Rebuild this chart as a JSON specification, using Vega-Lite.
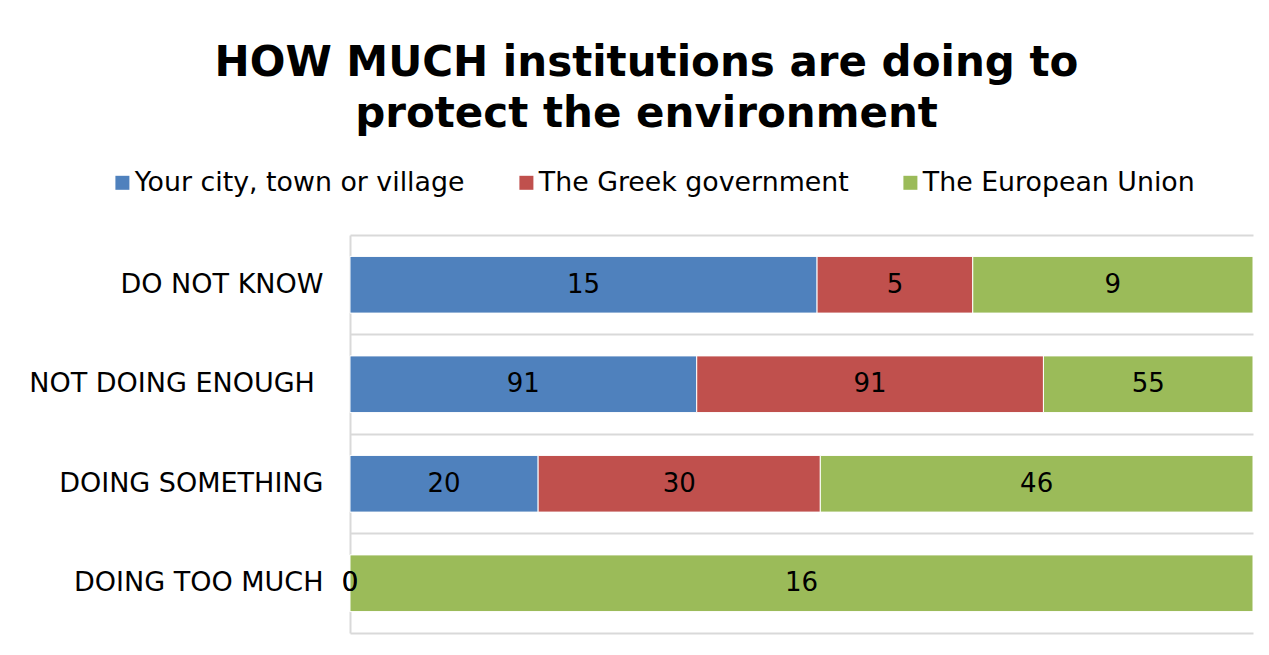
{
  "$schema": "https://vega.github.io/schema/vega-lite/v6.json",
  "autosize": "none",
  "padding": {"left": 350, "top": 235, "right": 16, "bottom": 22},
  "width": 903,
  "height": 398,
  "background": "white",
  "title": {
    "text": ["HOW MUCH institutions are doing to", "protect the environment"],
    "font": "DejaVu Sans",
    "fontSize": 42,
    "fontWeight": "bold",
    "color": "#000000",
    "lineHeight": 51,
    "anchor": "middle",
    "dx": -155,
    "offset": 33
  },
  "data": {
    "values": [
      {"category": "DO NOT KNOW", "series": "Your city, town or village", "order": 1, "value": 15},
      {"category": "DO NOT KNOW", "series": "The Greek government", "order": 2, "value": 5},
      {"category": "DO NOT KNOW", "series": "The European Union", "order": 3, "value": 9},
      {"category": "NOT DOING ENOUGH\u00a0\u200b", "series": "Your city, town or village", "order": 1, "value": 91},
      {"category": "NOT DOING ENOUGH\u00a0\u200b", "series": "The Greek government", "order": 2, "value": 91},
      {"category": "NOT DOING ENOUGH\u00a0\u200b", "series": "The European Union", "order": 3, "value": 55},
      {"category": "DOING SOMETHING", "series": "Your city, town or village", "order": 1, "value": 20},
      {"category": "DOING SOMETHING", "series": "The Greek government", "order": 2, "value": 30},
      {"category": "DOING SOMETHING", "series": "The European Union", "order": 3, "value": 46},
      {"category": "DOING TOO MUCH", "series": "Your city, town or village", "order": 1, "value": 0},
      {"category": "DOING TOO MUCH", "series": "The Greek government", "order": 2, "value": 0},
      {"category": "DOING TOO MUCH", "series": "The European Union", "order": 3, "value": 16}
    ]
  },
  "transform": [
    {"stack": "value", "groupby": ["category"], "sort": [{"field": "order"}], "offset": "normalize", "as": ["x0", "x1"]},
    {"calculate": "(datum.x0 + datum.x1) / 2", "as": "mid"}
  ],
  "encoding": {
    "y": {
      "field": "category",
      "type": "nominal",
      "sort": ["DO NOT KNOW", "NOT DOING ENOUGH\u00a0\u200b", "DOING SOMETHING", "DOING TOO MUCH"],
      "scale": {"paddingInner": 0.43, "paddingOuter": 0.215},
      "axis": {
        "title": null,
        "ticks": false,
        "labelFont": "DejaVu Sans",
        "labelFontSize": 27,
        "labelColor": "#000000",
        "labelPadding": 27,
        "labelLimit": 400,
        "domainColor": "#d9d9d9",
        "domainWidth": 2,
        "grid": true,
        "gridColor": "#d9d9d9",
        "gridWidth": 2,
        "bandPosition": -0.377
      }
    }
  },
  "layer": [
    {
      "mark": {"type": "bar", "stroke": "white", "strokeWidth": 1},
      "encoding": {
        "x": {
          "field": "x0",
          "type": "quantitative",
          "scale": {"domain": [0, 1], "nice": false},
          "axis": {"title": null, "labels": false, "ticks": false, "grid": false, "domainColor": "#d9d9d9", "domainWidth": 2}
        },
        "x2": {"field": "x1"},
        "color": {
          "field": "series",
          "type": "nominal",
          "sort": ["Your city, town or village", "The Greek government", "The European Union"],
          "scale": {
            "domain": ["Your city, town or village", "The Greek government", "The European Union"],
            "range": ["#4F81BD", "#C0504D", "#9BBB59"]
          },
          "legend": {
            "title": null,
            "orient": "none",
            "legendX": -241,
            "legendY": -66,
            "direction": "horizontal",
            "columns": 3,
            "columnPadding": 48,
            "symbolType": "square",
            "symbolSize": 196,
            "symbolStrokeWidth": 0,
            "labelOffset": -1,
            "labelFont": "DejaVu Sans",
            "labelFontSize": 26.8,
            "labelColor": "#000000",
            "labelLimit": 500
          }
        }
      }
    },
    {
      "mark": {"type": "text", "font": "DejaVu Sans", "fontSize": 26, "color": "#000000", "baseline": "middle", "align": "center"},
      "encoding": {
        "x": {"field": "mid", "type": "quantitative"},
        "text": {"field": "value", "type": "quantitative"}
      }
    }
  ],
  "config": {"view": {"stroke": null}}
}
